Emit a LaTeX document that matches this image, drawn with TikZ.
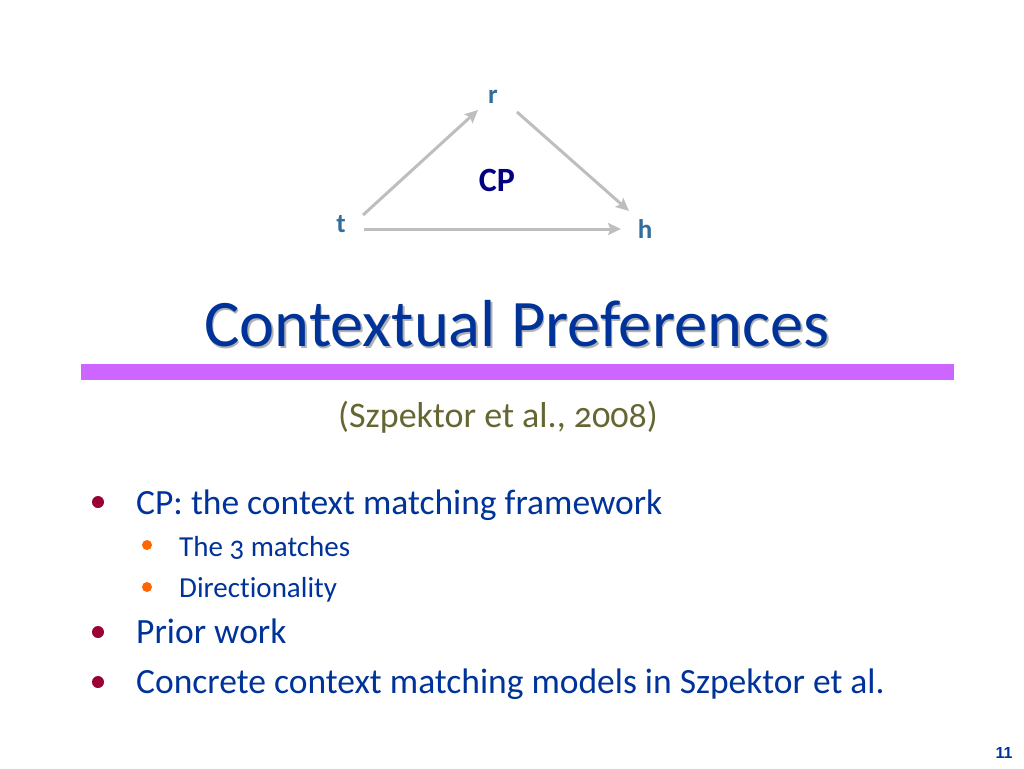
\documentclass[tikz,border=0pt]{standalone}
\usepackage{fontspec}
\setmainfont{Carlito}[Ligatures=NoCommon, Numbers=OldStyle]
\newfontfamily\numfont{Liberation Sans}
\usetikzlibrary{arrows.meta,calc}

\definecolor{titleblue}{RGB}{0,51,153}
\definecolor{labelblue}{RGB}{49,110,158}
\definecolor{cpnavy}{RGB}{0,0,128}
\definecolor{arrowgray}{RGB}{190,190,190}
\definecolor{barpurple}{RGB}{204,102,255}
\definecolor{citeolive}{RGB}{102,102,51}
\definecolor{dotred}{RGB}{153,0,51}
\definecolor{dotorange}{RGB}{255,102,0}

\tikzset{
  vert/.style={text=labelblue, font=\fontsize{27}{30}\selectfont\bfseries, inner sep=0},
  arr/.style={draw=arrowgray, line width=3pt, -{Stealth[length=13pt,width=12pt,inset=2.5pt]}},
  itemA/.style={anchor=base west, text=titleblue, font=\fontsize{35.5}{40}\selectfont, inner sep=0},
  itemB/.style={anchor=base west, text=titleblue, font=\fontsize{29}{34}\selectfont, inner sep=0},
  dotA/.style={circle, fill=dotred, inner sep=0, minimum size=12pt},
  dotB/.style={circle, fill=dotorange, inner sep=0, minimum size=10pt}
}

\begin{document}
\begin{tikzpicture}[x=1pt, y=-1pt]
  \useasboundingbox (0,0) rectangle (1024,768);

  % triangle
  \node[vert] (r) at (493,97) {r};
  \node[vert] (t) at (341,224) {t};
  \node[vert] (h) at (645,229) {h};
  \node[text=cpnavy, font=\fontsize{34}{38}\selectfont\bfseries, inner sep=0] (cp) at (497,180) {CP};
  \draw[arr] ($(t)+(22,-9)$) -- ($(r)+(-15,13)$);
  \draw[arr] ($(r)+(24,15)$) -- ($(h)+(-16,-18)$);
  \draw[arr] ($(t)+(23,5)$) -- ($(h)+(-24,0)$);

  % title
  \node[text=black!30, font=\fontsize{66.5}{74}\selectfont, inner sep=0] at (518.5,325.5) {Contextual Preferences};
  \node[text=titleblue, font=\fontsize{66.5}{74}\selectfont, inner sep=0] (title) at (517,324) {Contextual Preferences};
  \fill[barpurple] (81,364) rectangle (954,380);
  \node[text=citeolive, font=\fontsize{36}{42}\selectfont, inner sep=0] (cite) at (498,417) {(Szpektor et al., 2008)};

  % bullets
  \node[dotA] (d1) at (98,502) {};
  \node[itemA] (i1) at (136,514) {CP: the context matching framework};
  \node[dotB] (s1) at (147,545) {};
  \node[itemB] (j1) at (179,556) {The 3 matches};
  \node[dotB] (s2) at (147,587) {};
  \node[itemB] (j2) at (179,597) {Directionality};
  \node[dotA] (d2) at (98,632) {};
  \node[itemA] (i2) at (136,643) {Prior work};
  \node[dotA] (d3) at (98,682) {};
  \node[itemA] (i3) at (136,693) {Concrete context matching models in Szpektor et al.};

  \node[text=titleblue, font=\numfont\fontsize{16}{18}\selectfont\bfseries, inner sep=0] (num) at (1004,753) {11};
\end{tikzpicture}
\end{document}
